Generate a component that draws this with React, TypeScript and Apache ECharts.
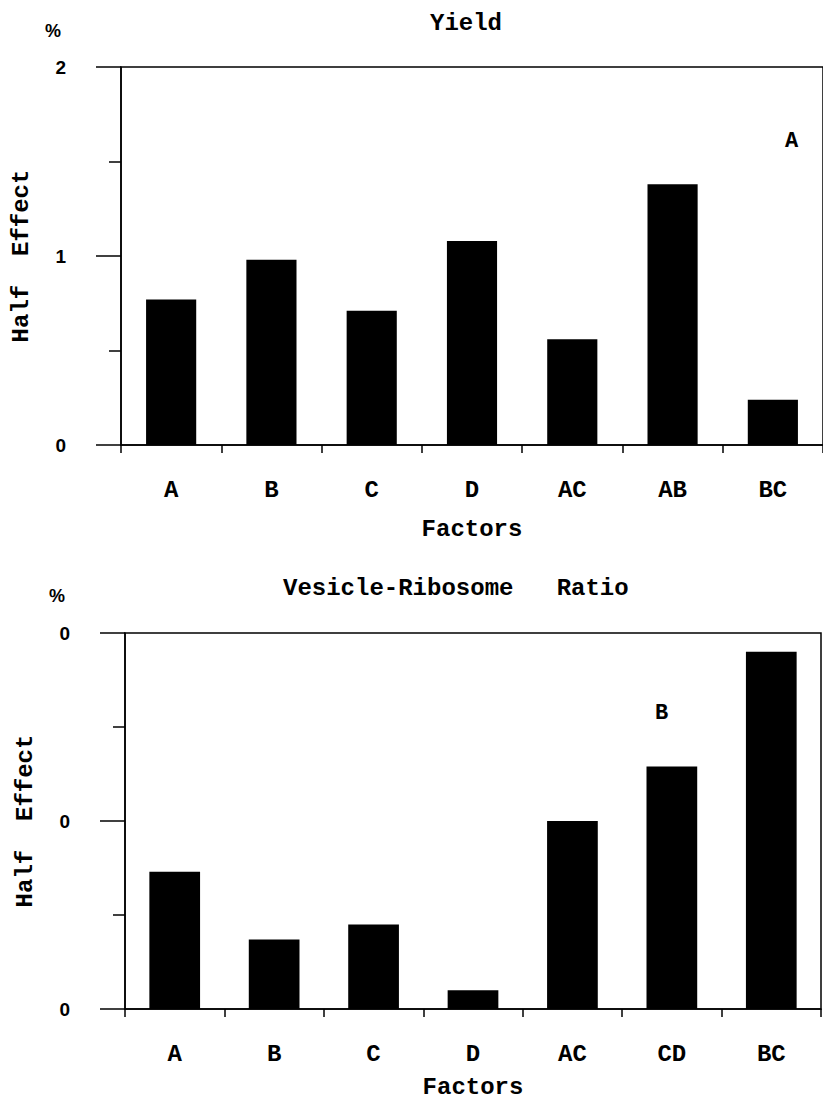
import React, { useEffect, useRef } from "react";
import * as echarts from "echarts";

const yieldCategories = ["A", "B", "C", "D", "AC", "AB", "BC"];
const yieldValues = [0.77, 0.98, 0.71, 1.08, 0.56, 1.38, 0.24];
const yieldTickLabels = ["0", "1", "2"];

const ratioCategories = ["A", "B", "C", "D", "AC", "CD", "BC"];
const ratioValues = [0.73, 0.37, 0.45, 0.1, 1.0, 1.29, 1.9];
const ratioTickLabels = ["0", "0", "0"];

const MONO = "Liberation Mono";
const SANS = "Liberation Sans";

export default function App() {
  const ref = useRef<HTMLDivElement>(null);
  useEffect(() => {
    if (!ref.current) return;
    const chart = echarts.init(ref.current, null, { renderer: "svg" });
    const lineStyle = { color: "#000", width: 1.5 };
    const makeY = (gridIndex: number, labels: string[]) => ({
      type: "value",
      gridIndex,
      min: 0,
      max: 2,
      interval: 1,
      name: "Half  Effect",
      nameLocation: "middle",
      nameGap: 88,
      nameTextStyle: { fontFamily: MONO, fontWeight: "bold", fontSize: 24, color: "#000" },
      axisLine: { show: true, lineStyle },
      axisTick: { show: true, length: 25, lineStyle },
      minorTick: { show: true, splitNumber: 2, length: 12, lineStyle },
      splitLine: { show: false },
      axisLabel: {
        margin: 55,
        fontFamily: SANS,
        fontWeight: "bold",
        fontSize: 19,
        color: "#000",
        formatter: (v: number) => labels[Math.round(v)] ?? "",
      },
    });
    const makeX = (gridIndex: number, cats: string[], gap: number) => ({
      type: "category",
      gridIndex,
      data: cats,
      boundaryGap: true,
      name: "Factors",
      nameLocation: "middle",
      nameGap: gap,
      nameTextStyle: { fontFamily: MONO, fontWeight: "bold", fontSize: 24, color: "#000" },
      axisLine: { show: true, lineStyle },
      axisTick: { show: true, length: 8, lineStyle },
      axisLabel: { margin: 33, fontFamily: MONO, fontWeight: "bold", fontSize: 24, color: "#000" },
    });
    chart.setOption({
      animation: false,
      backgroundColor: "#fff",
      title: [
        {
          text: "Yield",
          left: 425,
          top: 6,
          textStyle: { fontFamily: MONO, fontWeight: "bold", fontSize: 24, color: "#000" },
        },
        {
          text: "Vesicle-Ribosome   Ratio",
          left: 278,
          top: 571,
          textStyle: { fontFamily: MONO, fontWeight: "bold", fontSize: 24, color: "#000" },
        },
      ],
      grid: [
        { left: 121, top: 67, width: 708, height: 378, show: true, borderColor: "#000", borderWidth: 1.5, backgroundColor: "transparent" },
        { left: 125, top: 633, width: 696, height: 377, show: true, borderColor: "#000", borderWidth: 1.5, backgroundColor: "transparent" },
      ],
      xAxis: [makeX(0, yieldCategories, 72), makeX(1, ratioCategories, 66)],
      yAxis: [makeY(0, yieldTickLabels), makeY(1, ratioTickLabels)],
      series: [
        {
          type: "bar",
          xAxisIndex: 0,
          yAxisIndex: 0,
          data: yieldValues,
          barWidth: "50%",
          itemStyle: { color: "#000" },
        },
        {
          type: "bar",
          xAxisIndex: 1,
          yAxisIndex: 1,
          data: ratioValues,
          barWidth: "51%",
          itemStyle: { color: "#000" },
        },
      ],
      graphic: [
        { type: "text", left: 45, top: 22, style: { text: "%", fontFamily: SANS, fontWeight: "bold", fontSize: 18, fill: "#000" } },
        { type: "text", left: 49, top: 587, style: { text: "%", fontFamily: SANS, fontWeight: "bold", fontSize: 18, fill: "#000" } },
        { type: "text", left: 785, top: 130, style: { text: "A", fontFamily: MONO, fontWeight: "bold", fontSize: 22, fill: "#000" } },
        { type: "text", left: 655, top: 702, style: { text: "B", fontFamily: MONO, fontWeight: "bold", fontSize: 22, fill: "#000" } },
      ],
    });
    return () => chart.dispose();
  }, []);
  return (
    <div
      ref={ref}
      style={{ position: "absolute", left: 0, top: 0, width: 823, height: 1100 }}
    />
  );
}
